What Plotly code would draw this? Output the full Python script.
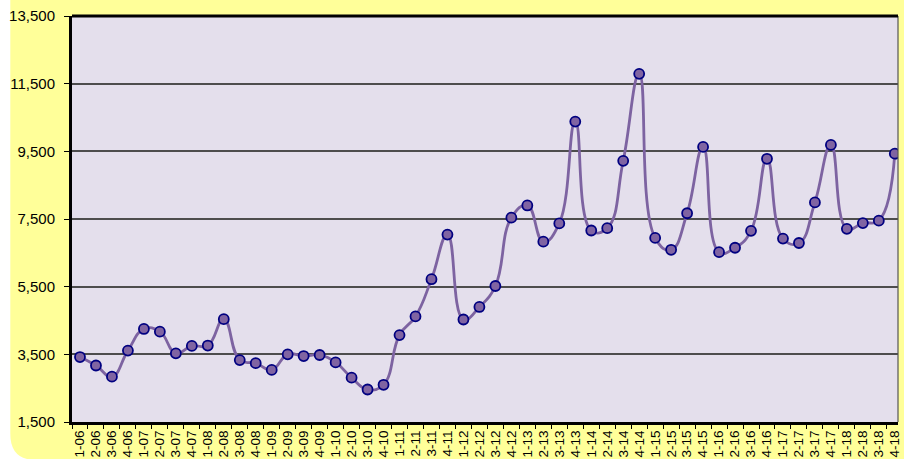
import plotly.graph_objects as go

quarters = ["1-06","2-06","3-06","4-06","1-07","2-07","3-07","4-07","1-08","2-08","3-08","4-08",
            "1-09","2-09","3-09","4-09","1-10","2-10","3-10","4-10","1-11","2-11","3-11","4-11",
            "1-12","2-12","3-12","4-12","1-13","2-13","3-13","4-13","1-14","2-14","3-14","4-14",
            "1-15","2-15","3-15","4-15","1-16","2-16","3-16","4-16","1-17","2-17","3-17","4-17",
            "1-18","2-18","3-18","4-18"]
values = [3420, 3170, 2840, 3610, 4250, 4170, 3530, 3750, 3760, 4540, 3330, 3240,
          3040, 3500, 3450, 3480, 3260, 2810, 2460, 2600, 4070, 4620, 5720, 7040,
          4530, 4900, 5520, 7540, 7900, 6830, 7370, 10380, 7160, 7230, 9220, 11790,
          6940, 6590, 7670, 9630, 6520, 6650, 7150, 9280, 6920, 6790, 7990, 9690,
          7210, 7380, 7450, 9430]
y_ticks = [1500, 3500, 5500, 7500, 9500, 11500, 13500]

W, H = 904, 459
# plot area in screen pixels (page body margin removed via post_script)
L, R, T, B = 72, 902, 16, 422

def px(x):  # pixel -> paper
    return (x - L) / (R - L)

def py(y):
    return (B - y) / (B - T)

fig = go.Figure()
fig.add_trace(go.Scatter(
    x=quarters, y=values, mode="lines+markers",
    line=dict(color="#7D63A1", width=2.8, shape="spline", smoothing=1.3),
    marker=dict(size=10, color="#8064A2", line=dict(color="#000080", width=1.8)),
    hoverinfo="x+y", showlegend=False,
))

# yellow rounded background (pixel coordinates)
x0, x1, y0, y1, r = 10, 930, -5, 460, 26
path = (f"M {px(x0)},{py(y0)} L {px(x1)},{py(y0)} L {px(x1)},{py(y1)} "
        f"L {px(x0 + r)},{py(y1)} Q {px(x0)},{py(y1)} {px(x0)},{py(y1 - r)} Z")
shapes = [
    dict(type="path", path=path, xref="paper", yref="paper",
         fillcolor="#FFFF99", line=dict(width=0), layer="below"),
    dict(type="rect", x0=0, x1=1, y0=0, y1=1, xref="paper", yref="paper",
         fillcolor="#E4DFEC", line=dict(width=0), layer="below"),
    dict(type="line", x0=1, x1=1, y0=0, y1=1, xref="paper", yref="paper",
         line=dict(color="#555555", width=1.2)),
    dict(type="line", x0=0, x1=1, y0=1, y1=1, xref="paper", yref="paper",
         line=dict(color="black", width=3)),
]

fig.update_layout(
    width=W, height=H,
    margin=dict(l=L, r=W - R, t=T, b=H - B),
    paper_bgcolor="white",
    plot_bgcolor="rgba(0,0,0,0)",
    shapes=shapes,
    font=dict(family="Liberation Sans, Arial, sans-serif", color="black"),
    xaxis=dict(
        type="category", range=[-0.5, 51.2],
        tickmode="linear", tick0=0, dtick=1,
        tickangle=-90, tickfont=dict(size=13.5),
        showgrid=False, ticks="outside", ticklen=4, tickcolor="black",
        tickson="boundaries",
        showline=True, linecolor="black", linewidth=3, mirror=False,
        fixedrange=True,
    ),
    yaxis=dict(
        range=[1500, 13500], tickvals=y_ticks,
        ticktext=[f"{v:,}" for v in y_ticks],
        tickfont=dict(size=15), ticklabelstandoff=6,
        ticklabeloverflow="allow",
        showgrid=True, gridcolor="#4d4d4d", gridwidth=1.5,
        ticks="outside", ticklen=5, tickcolor="black",
        showline=True, linecolor="black", linewidth=3,
        zeroline=False, fixedrange=True,
    ),
)

fig.write_html(
    "out.html",
    config={"displayModeBar": False},
    post_script="document.body.style.margin='0';document.body.style.overflow='hidden';",
)
